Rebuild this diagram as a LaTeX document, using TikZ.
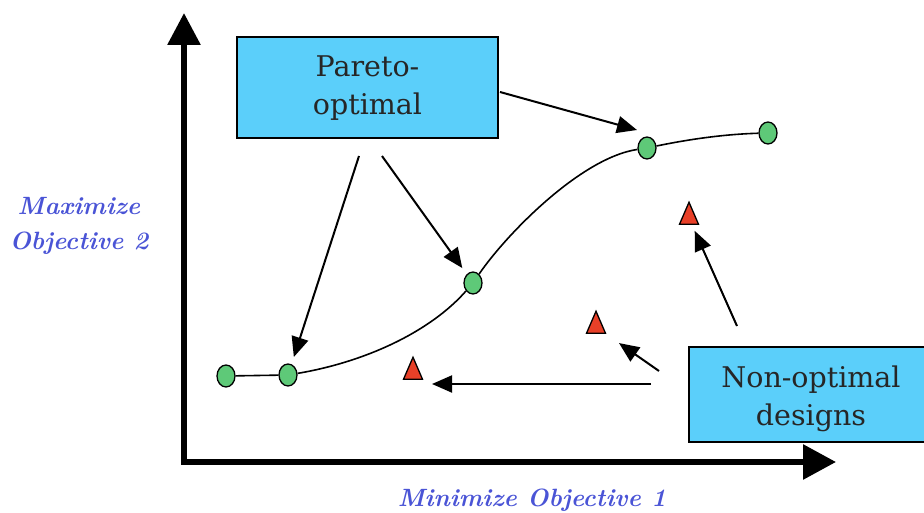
\documentclass[tikz,border=0pt]{standalone}
\usepackage{fontspec}
\newfontfamily\boxfont{DejaVu Serif}
\usetikzlibrary{arrows.meta,shapes.geometric,calc}
\definecolor{boxcyan}{RGB}{91,207,250}
\definecolor{ptgreen}{RGB}{94,201,120}
\definecolor{ptred}{RGB}{232,64,40}
\definecolor{axisblue}{RGB}{74,84,214}
\tikzset{
  axisline/.style={line width=6pt,line join=miter,
    {Triangle[length=32pt,width=32pt]}-{Triangle[length=33pt,width=34pt]}},
  ptr/.style={line width=2pt,-{Triangle[length=20pt,width=17pt]}},
  infobox/.style={draw,line width=2.5pt,fill=boxcyan,inner sep=0pt},
  boxtext/.style={align=center,text=black!85,font=\boxfont\fontsize{28.5}{38}\selectfont},
  optpt/.style={ellipse,draw,line width=1.3pt,fill=ptgreen,inner sep=0pt,
    minimum width=18pt,minimum height=22pt},
  badpt/.style={isosceles triangle,isosceles triangle stretches,
    shape border rotate=90,draw,line width=1.3pt,fill=ptred,inner sep=0pt,
    minimum width=19pt,minimum height=22pt},
  axislabel/.style={text=axisblue,align=center,
    font=\fontsize{25}{35}\selectfont\bfseries\itshape},
}
\begin{document}
\begin{tikzpicture}[x=1pt,y=-1pt]
\useasboundingbox (0,0) rectangle (924,513);

% axes
\coordinate (ytop) at (184,13);
\coordinate (orig) at (184,462);
\coordinate (xend) at (836,462);
\draw[axisline] (ytop) -- (orig) -- (xend);

% axis captions
\node[axislabel] (ylab) at (79,226) {Maximize\\Objective 2};
\node[axislabel,anchor=base] (xlab) at (532,506) {Minimize Objective 1};

% Pareto-optimal designs
\node[optpt] (p1) at (226,376) {};
\node[optpt] (p2) at (288,375) {};
\node[optpt] (p3) at (473,283) {};
\node[optpt] (p4) at (647,148) {};
\node[optpt] (p5) at (768,133) {};

% dominated designs
\node[badpt] (t1) at (413,373) {};
\node[badpt] (t2) at (596,327) {};
\node[badpt] (t3) at (689,218) {};

% Pareto front
\draw[line width=1.6pt] (p1) -- (p2)
  .. controls (365,362) and (430,332) .. (p3)
  .. controls (505,236) and (580,158) .. (p4)
  .. controls (695,138) and (730,134) .. (p5);

% callout boxes
\node[infobox,minimum width=261pt,minimum height=101pt,
  label={[boxtext,yshift=-1pt]center:Pareto-\\optimal}] (pareto) at (367.5,87.5) {};
\node[infobox,minimum width=244pt,minimum height=95pt,
  label={[boxtext,yshift=-4.5pt]center:Non-optimal\\designs}] (nonopt) at (811,394.5) {};

% pointers from the boxes
\coordinate (a1s) at (359,156);
\coordinate (a2s) at (382,156);
\coordinate (a3s) at (500,92);
\coordinate (a4s) at (737,326);
\coordinate (a5s) at (659,371);
\coordinate (a6s) at (651,384);
\draw[ptr,shorten >=7.5pt] (a1s) -- (p2);
\draw[ptr,shorten >=7.5pt] (a2s) -- (p3);
\draw[ptr] (a3s) -- ($(p4)+(-10,-18)$);
\draw[ptr,shorten >=6.5pt] (a4s) -- (t3);
\draw[ptr,shorten >=16pt] (a5s) -- (t2);
\draw[ptr,shorten >=19pt] (a6s) -- (a6s -| t1);
\end{tikzpicture}
\end{document}
